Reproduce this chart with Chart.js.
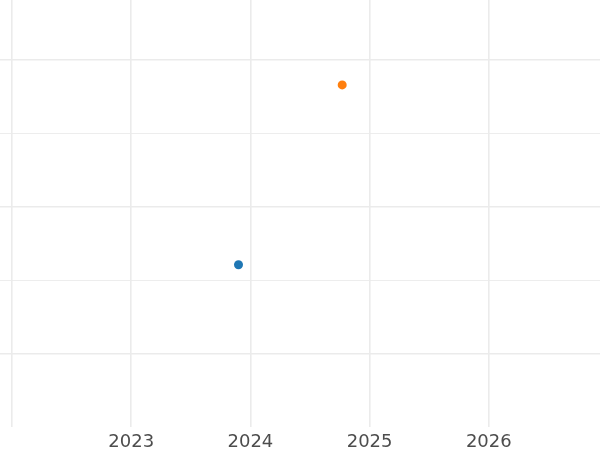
<!DOCTYPE html>
<html>
<head>
<meta charset="utf-8">
<script src="https://cdn.jsdelivr.net/npm/chart.js@4/dist/chart.umd.min.js"></script>
<style>
  html, body { margin: 0; padding: 0; background: #fff; }
  #wrap { width: 600px; height: 450px; }
</style>
</head>
<body>
<div id="wrap"><canvas id="chart"></canvas></div>
<script>
// values
const blueX = [2023.9]
const blueY = [2.21]
const orangeX = [2024.77]
const orangeY = [4.66]

const xTicks = [2022, 2023, 2024, 2025, 2026]
const xTickLabels = ['', '2023', '2024', '2025', '2026']
const yMajor = [1, 3, 5]
const yMinor = [2, 4]

const toPoints = (xs, ys) => xs.map((x, i) => ({ x: x, y: ys[i] }))

new Chart(document.getElementById('chart').getContext('2d'), {
    type: 'scatter',
    data: {
        datasets: [
            {
                label: 'a',
                data: toPoints(blueX, blueY),
                backgroundColor: '#1f77b4',
                borderWidth: 0,
                pointRadius: 4.5,
            },
            {
                label: 'b',
                data: toPoints(orangeX, orangeY),
                backgroundColor: '#ff7f0e',
                borderWidth: 0,
                pointRadius: 4.5,
            },
        ],
    },
    options: {
        responsive: true,
        maintainAspectRatio: false,
        animation: false,
        layout: { padding: 0, autoPadding: false },
        plugins: {
            legend: { display: false },
            tooltip: { enabled: false },
        },
        scales: {
            x: {
                type: 'linear',
                min: 2021.899,
                max: 2026.933,
                afterBuildTicks: (scale) => {
                    scale.ticks = xTicks.map((v) => ({ value: v }))
                },
                afterFit: (scale) => {
                    scale.height = 23
                },
                border: { display: false },
                grid: {
                    color: '#ebebeb',
                    lineWidth: 1.6,
                    drawTicks: false,
                },
                ticks: {
                    padding: 5,
                    color: '#4d4d4d',
                    font: { family: 'DejaVu Sans', size: 18 },
                    maxRotation: 0,
                    autoSkip: false,
                    callback: (v) => xTickLabels[xTicks.indexOf(v)],
                },
            },
            y: {
                type: 'linear',
                min: 0,
                max: 5.817,
                afterBuildTicks: (scale) => {
                    scale.ticks = [...yMajor, ...yMinor].sort().map((v) => ({ value: v }))
                },
                afterFit: (scale) => {
                    scale.width = 0
                },
                border: { display: false },
                grid: {
                    color: '#ebebeb',
                    lineWidth: (ctx) => (yMajor.includes(ctx.tick && ctx.tick.value) ? 1.6 : 0.9),
                    drawTicks: false,
                },
                ticks: { display: false },
            },
        },
    },
})
</script>
</body>
</html>
